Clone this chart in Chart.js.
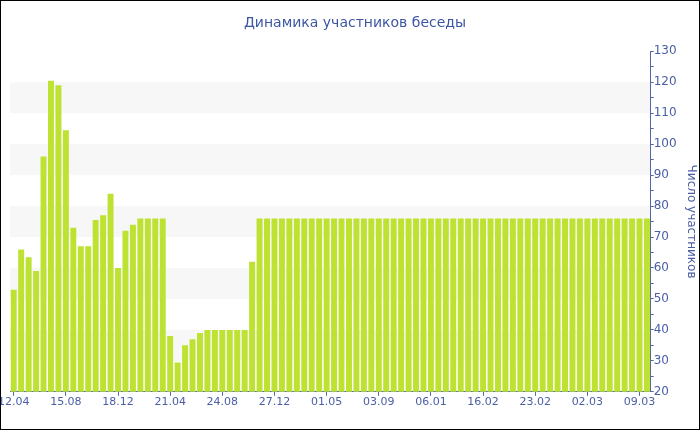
<!DOCTYPE html>
<html>
<head>
<meta charset="utf-8">
<script src="https://cdn.jsdelivr.net/npm/chart.js@4"></script>
<style>
  html, body { margin: 0; padding: 0; background: #fff; }
  #wrap { width: 700px; height: 430px; }
</style>
</head>
<body>
<div id="wrap"><canvas id="membersChart" width="700" height="430"></canvas></div>
<script>
// ===== Chat members dynamics =====

const TITLE = 'Динамика участников беседы';
const Y_TITLE = 'Число участников';

// labels shown under every 7th bar
const tickLabels = ['12.04', '15.08', '18.12', '21.04', '24.08', '27.12', '01.05',
  '03.09', '06.01', '16.02', '23.02', '02.03', '09.03'];

const members = [
  53, 66, 63.5, 59, 96, 120.5, 119, 104.5, 73, 67, 67, 75.5, 77, 84, 60, 72, 74,
  76, 76, 76, 76, 38, 29.5, 35, 37, 39, 40, 40, 40, 40, 40, 40, 62,
  76, 76, 76, 76, 76, 76, 76, 76, 76, 76, 76, 76, 76, 76, 76, 76, 76, 76,
  76, 76, 76, 76, 76, 76, 76, 76, 76, 76, 76, 76, 76, 76, 76, 76, 76, 76,
  76, 76, 76, 76, 76, 76, 76, 76, 76, 76, 76, 76, 76, 76, 76, 76, 76
];

const labels = members.map((_, i) => (i % 7 === 0 ? tickLabels[i / 7] : ''));

const AXIS_COLOR = '#5067a8';
const TEXT_COLOR = '#4a5ea6';
const FONT = 'DejaVu Sans';

// light stripes every other 10 units
const bandsPlugin = {
  id: 'bands',
  beforeDraw(chart) {
    const { ctx, chartArea, scales: { y } } = chart;
    ctx.save();
    ctx.fillStyle = '#f7f7f7';
    for (let v = 30; v < 130; v += 20) {
      const top = y.getPixelForValue(v + 10);
      const bottom = y.getPixelForValue(v);
      ctx.fillRect(chartArea.left, top, chartArea.right - chartArea.left, bottom - top);
    }
    ctx.restore();
  }
};

const framePlugin = {
  id: 'frame',
  afterDraw(chart) {
    const { ctx, width, height } = chart;
    ctx.save();
    ctx.strokeStyle = '#000';
    ctx.lineWidth = 1;
    ctx.strokeRect(0.5, 0.5, width - 1, height - 1);
    ctx.restore();
  }
};

new Chart(document.getElementById('membersChart'), {
  type: 'bar',
  data: {
    labels,
    datasets: [{
      data: members,
      backgroundColor: '#bde232',
      borderWidth: 0,
      barPercentage: 0.8,
      categoryPercentage: 1
    }]
  },
  options: {
    responsive: false,
    animation: false,
    layout: { padding: { left: 10, right: 0, top: 0, bottom: 21 } },
    plugins: {
      legend: { display: false },
      tooltip: { enabled: false },
      title: {
        display: true,
        text: TITLE,
        color: '#3d56a4',
        font: { family: FONT, size: 14, weight: 'normal' },
        padding: { top: 15, bottom: 19.5 }
      }
    },
    scales: {
      x: {
        offset: true,
        grid: {
          offset: false,
          drawOnChartArea: false,
          tickLength: 4,
          tickColor: (c) => (c.index % 7 === 0 ? AXIS_COLOR : 'rgba(0,0,0,0)')
        },
        border: { color: AXIS_COLOR },
        ticks: {
          autoSkip: false,
          maxRotation: 0,
          padding: 0,
          color: TEXT_COLOR,
          font: { family: FONT, size: 11 }
        },
        afterFit: (scale) => { scale.paddingLeft = 0; }
      },
      y: {
        position: 'right',
        min: 20,
        max: 130,
        grid: { drawOnChartArea: false, tickLength: 3, tickColor: AXIS_COLOR },
        border: { color: AXIS_COLOR },
        ticks: {
          stepSize: 5,
          autoSkip: false,
          padding: 0,
          color: TEXT_COLOR,
          font: { family: FONT, size: 12 },
          callback: (v) => (v % 10 === 0 ? v : '')
        },
        title: {
          display: true,
          text: Y_TITLE,
          color: TEXT_COLOR,
          font: { family: FONT, size: 12 },
          padding: { top: 2, bottom: 7 }
        }
      }
    }
  },
  plugins: [bandsPlugin, framePlugin]
});
</script>
</body>
</html>
